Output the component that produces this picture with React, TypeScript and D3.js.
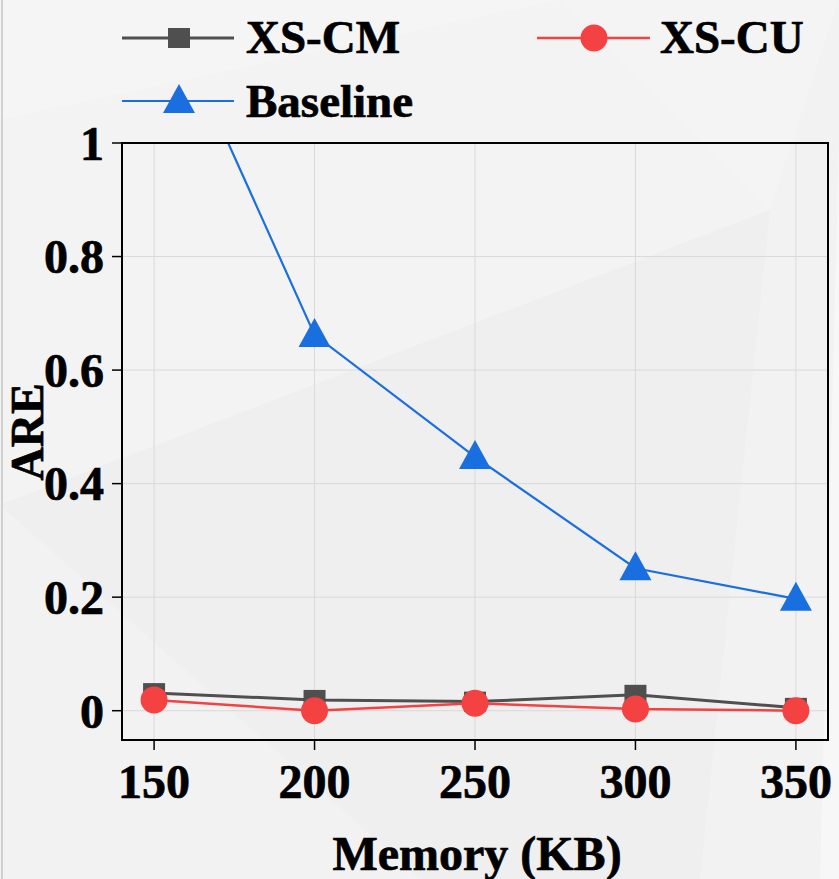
import React from "react";
import * as d3 from "d3";

const memory = [150, 200, 250, 300, 350];
const xsCM = [0.031, 0.019, 0.016, 0.028, 0.005];
const xsCU = [0.019, 0.0, 0.013, 0.003, 0.0];
const baseline = [1.29, 0.662, 0.447, 0.251, 0.197];
const yTicks = [0, 0.2, 0.4, 0.6, 0.8, 1];
const yTickLabels = ["0", "0.2", "0.4", "0.6", "0.8", "1"];
const xTicks = [150, 200, 250, 300, 350];

const W = 839;
const H = 879;
const FONT = "'Liberation Serif', 'Times New Roman', serif";

const GRAY = "#4f4f4f";
const RED = "#f44141";
const BLUE = "#1a6fe0";

export default function App() {
  const x = d3.scaleLinear().domain([140, 360]).range([122, 828]);
  const y = d3.scaleLinear().domain([-0.0516, 1]).range([740, 143]);
  const line = d3
    .line<[number, number]>()
    .x((d) => x(d[0]))
    .y((d) => y(d[1]));

  const pts = (vals: number[]) => memory.map((m, i) => [m, vals[i]] as [number, number]);

  const tri = (cx: number, cy: number) =>
    `M${cx},${cy - 17} L${cx + 16},${cy + 12} L${cx - 16},${cy + 12} Z`;

  const [x0, x1] = x.range();
  const [yb, yt] = y.range();

  const textProps = { fill: "#000", stroke: "#000", strokeWidth: 0.7 };

  return (
    <svg
      width={W}
      height={H}
      style={{ position: "absolute", left: 0, top: 0 }}
      fontFamily={FONT}
      fontWeight="bold"
    >
      <defs>
        <clipPath id="plotclip">
          <rect x={x0} y={yt} width={x1 - x0} height={yb - yt} />
        </clipPath>
      </defs>
      {/* background */}
      <rect x={0} y={0} width={W} height={H} fill="#f0f0f0" />
      <polygon points="0,0 560,0 0,120" fill="#f5f5f5" />
      <polygon points="0,120 560,0 770,210 0,505" fill="#f3f3f3" />
      <polygon points="0,505 770,210 830,360 700,879 420,879" fill="#efefef" />
      <polygon points="0,505 420,879 0,879" fill="#f2f2f2" />
      <polygon points="560,0 839,0 770,210" fill="#f4f4f4" />
      <polygon points="770,210 839,0 839,879 700,879" fill="#f2f2f2" />
      <polygon points="839,140 839,879 820,879" fill="#f7f7f7" />
      <line x1={2} y1={0} x2={2} y2={H} stroke="#c4c4c4" strokeWidth={1.5} />

      {/* grid */}
      {xTicks.map((t) => (
        <line key={"gx" + t} x1={x(t)} x2={x(t)} y1={yt} y2={yb} stroke="#d9d9d9" strokeWidth={1} />
      ))}
      {yTicks.map((t) => (
        <line key={"gy" + t} x1={x0} x2={x1} y1={y(t)} y2={y(t)} stroke="#d9d9d9" strokeWidth={1} />
      ))}

      {/* series */}
      <g clipPath="url(#plotclip)">
        <path d={line(pts(xsCM)) || ""} fill="none" stroke={GRAY} strokeWidth={3} />
        {memory.map((m, i) => (
          <rect key={"sq" + m} x={x(m) - 11} y={y(xsCM[i]) - 10} width={22} height={20} fill={GRAY} />
        ))}
        <path d={line(pts(xsCU)) || ""} fill="none" stroke={RED} strokeWidth={2.5} />
        {memory.map((m, i) => (
          <circle key={"c" + m} cx={x(m)} cy={y(xsCU[i])} r={13.5} fill={RED} />
        ))}
        <path d={line(pts(baseline)) || ""} fill="none" stroke={BLUE} strokeWidth={2.2} />
        {memory.map((m, i) => (
          <path key={"t" + m} d={tri(x(m), y(baseline[i]))} fill={BLUE} />
        ))}
      </g>

      {/* frame */}
      <rect x={x0} y={yt} width={x1 - x0} height={yb - yt} fill="none" stroke="#000" strokeWidth={2} />

      {/* y ticks */}
      {yTicks.map((t, i) => (
        <g key={"yt" + t}>
          <line x1={x0 - 10} x2={x0} y1={y(t)} y2={y(t)} stroke="#000" strokeWidth={1.5} />
          <text x={104} y={y(t)} dy="0.35em" textAnchor="end" fontSize={48} {...textProps}>
            {yTickLabels[i]}
          </text>
        </g>
      ))}
      {/* x ticks */}
      {xTicks.map((t) => (
        <g key={"xt" + t}>
          <line x1={x(t)} x2={x(t)} y1={yb} y2={yb + 10} stroke="#000" strokeWidth={1.5} />
          <text x={x(t)} y={798} textAnchor="middle" fontSize={48} {...textProps}>
            {t}
          </text>
        </g>
      ))}

      {/* axis titles */}
      <text x={477} y={870} textAnchor="middle" fontSize={48} {...textProps}>
        Memory (KB)
      </text>
      <text
        transform={`translate(43,${432}) rotate(-90)`}
        textAnchor="middle"
        fontSize={46}
        {...textProps}
      >
        ARE
      </text>

      {/* legend */}
      <g>
        <line x1={122} x2={234} y1={38} y2={38} stroke={GRAY} strokeWidth={3} />
        <rect x={179 - 11} y={38 - 10} width={22} height={20} fill={GRAY} />
        <text x={246} y={53} fontSize={47} {...textProps}>XS-CM</text>

        <line x1={537} x2={650} y1={38} y2={38} stroke={RED} strokeWidth={2.5} />
        <circle cx={594} cy={38} r={13.5} fill={RED} />
        <text x={660} y={53} fontSize={47} {...textProps}>XS-CU</text>

        <line x1={122} x2={234} y1={101} y2={101} stroke={BLUE} strokeWidth={2.2} />
        <path d={tri(179, 101)} fill={BLUE} />
        <text x={246} y={117} fontSize={47} {...textProps}>Baseline</text>
      </g>
    </svg>
  );
}
